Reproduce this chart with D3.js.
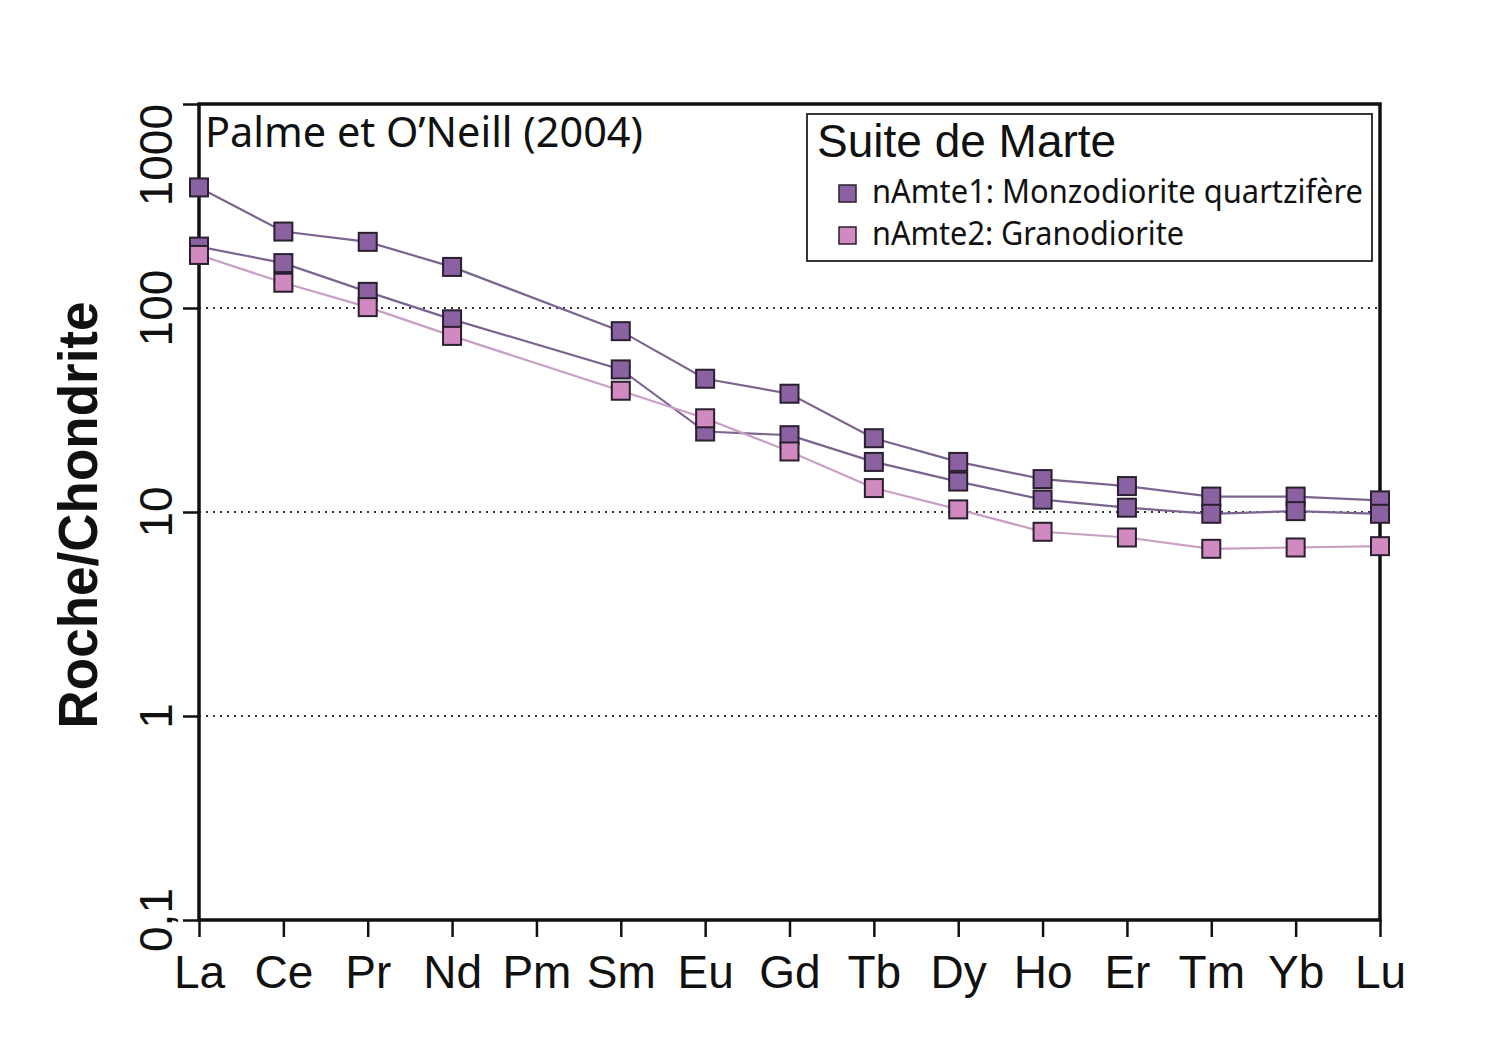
<!DOCTYPE html>
<html>
<head>
<meta charset="utf-8">
<script src="https://cdn.jsdelivr.net/npm/d3@7"></script>
<style>
  body { margin: 0; background: #fff; }
  svg { display: block; }
</style>
</head>
<body>
<script>
// Rare earth elements, chondrite normalised (Palme & O'Neill 2004)
let elements = ["La", "Ce", "Pr", "Nd", "Pm", "Sm", "Eu", "Gd", "Tb", "Dy", "Ho", "Er", "Tm", "Yb", "Lu"];

// nAmte1 samples (two of them), nAmte2; Pm is not measured
let nAmte1a = [390, 237, 211, 159, null, 77, 45, 38, 23, 17.6, 14.5, 13.4, 11.9, 11.9, 11.4];
let nAmte1b = [200, 166, 120, 88, null, 50, 24.8, 23.8, 17.6, 14.1, 11.5, 10.5, 9.8, 10.1, 9.8];
let nAmte2 = [182, 133, 101, 73, null, 39.3, 28.8, 19.8, 13.1, 10.3, 8.0, 7.5, 6.6, 6.7, 6.8];

let yTicks = [0.1, 1, 10, 100, 1000];
let yTickLabels = ["0,1", "1", "10", "100", "1000"];
let gridValues = [1, 10, 100];

let legendItems = [
    { label: "nAmte1: Monzodiorite quartzifère", fill: "#8a62a2", length: 491 },
    { label: "nAmte2: Granodiorite", fill: "#d08ac0", length: 312 }
];

let series = [
    { values: nAmte1a, fill: "#8a62a2", line: "#7b6590" },
    { values: nAmte1b, fill: "#8a62a2", line: "#7b6590" },
    { values: nAmte2, fill: "#d08ac0", line: "#c99fc4" }
];

let width = 1499, height = 1053;
let plot = { left: 199, right: 1380, top: 104, bottom: 920 };

let svg = d3.select("body")
    .append("svg")
    .attr("width", width)
    .attr("height", height);

let x = d3.scalePoint(elements, [plot.left, plot.right]);
let y = d3.scaleLog([0.1, 1000], [plot.bottom, plot.top]);

// Dotted grid lines
svg.append("g")
    .selectAll("line")
    .data(gridValues)
    .enter()
    .append("line")
    .attr("x1", plot.left)
    .attr("x2", plot.right)
    .attr("y1", d => y(d))
    .attr("y2", d => y(d))
    .attr("stroke", "#333")
    .attr("stroke-width", 1.8)
    .attr("stroke-dasharray", "2,5");

// Frame
svg.append("rect")
    .attr("x", plot.left)
    .attr("y", plot.top)
    .attr("width", plot.right - plot.left)
    .attr("height", plot.bottom - plot.top)
    .attr("fill", "none")
    .attr("stroke", "#111")
    .attr("stroke-width", 3.5);

// Y axis
let yAxis = svg.append("g")
    .attr("transform", `translate(${plot.left},0)`)
    .call(d3.axisLeft(y).tickValues(yTicks).tickSize(16).tickFormat(""));
yAxis.select(".domain").remove();
yAxis.selectAll(".tick line").attr("stroke", "#111").attr("stroke-width", 2.5);

svg.append("g")
    .selectAll("text")
    .data(yTicks)
    .enter()
    .append("text")
    .attr("transform", d => `translate(172,${y(d)}) rotate(-90)`)
    .attr("text-anchor", d => d == 1000 ? "end" : "middle")
    .attr("font-family", "Liberation Sans, Arial, sans-serif")
    .attr("font-size", 46)
    .attr("fill", "#111")
    .text((d, i) => yTickLabels[i]);

// X axis
let xAxis = svg.append("g")
    .attr("transform", `translate(0,${plot.bottom})`)
    .call(d3.axisBottom(x).tickSize(17).tickPadding(20));
xAxis.select(".domain").remove();
xAxis.selectAll(".tick line").attr("stroke", "#111").attr("stroke-width", 2.5);
xAxis.selectAll(".tick text")
    .attr("font-family", "Liberation Sans, Arial, sans-serif")
    .attr("font-size", 46)
    .attr("fill", "#111")
    .attr("dy", null)
    .attr("y", 68);

// Axis title
svg.append("text")
    .attr("transform", `translate(97,${(plot.top + plot.bottom) / 2 + 3}) rotate(-90)`)
    .attr("text-anchor", "middle")
    .attr("font-family", "Liberation Sans, Arial, sans-serif")
    .attr("font-weight", "bold")
    .attr("font-size", 56)
    .attr("textLength", 427)
    .attr("lengthAdjust", "spacingAndGlyphs")
    .attr("fill", "#111")
    .text("Roche/Chondrite");

// Series lines and markers
let line = d3.line()
    .defined(d => d.v != null)
    .x(d => x(d.e))
    .y(d => y(d.v));

let size = 18;
series.forEach(s => {
    let pts = elements.map((e, i) => ({ e: e, v: s.values[i] })).filter(d => d.v != null);
    svg.append("path")
        .attr("d", line(pts))
        .attr("fill", "none")
        .attr("stroke", s.line)
        .attr("stroke-width", 2.2);
});

series.forEach(s => {
    let pts = elements.map((e, i) => ({ e: e, v: s.values[i] })).filter(d => d.v != null);
    svg.append("g")
        .selectAll("rect")
        .data(pts)
        .enter()
        .append("rect")
        .attr("x", d => x(d.e) - size / 2)
        .attr("y", d => y(d.v) - size / 2)
        .attr("width", size)
        .attr("height", size)
        .attr("fill", s.fill)
        .attr("stroke", "#2a1f2e")
        .attr("stroke-width", 2);
});

// Reference note
svg.append("text")
    .attr("x", 205)
    .attr("y", 147)
    .attr("font-family", "Noto Sans, Open Sans, sans-serif")
    .attr("font-size", 41)
    .attr("textLength", 438)
    .attr("lengthAdjust", "spacingAndGlyphs")
    .attr("fill", "#111")
    .text("Palme et O’Neill (2004)");

// Legend
let legend = svg.append("g");
legend.append("rect")
    .attr("x", 807)
    .attr("y", 114)
    .attr("width", 565)
    .attr("height", 147)
    .attr("fill", "#fff")
    .attr("stroke", "#222")
    .attr("stroke-width", 1.8);

legend.append("text")
    .attr("x", 817)
    .attr("y", 157)
    .attr("font-family", "Liberation Sans, Arial, sans-serif")
    .attr("font-size", 46)
    .attr("fill", "#111")
    .text("Suite de Marte");

let items = legend.selectAll(".item")
    .data(legendItems)
    .enter()
    .append("g")
    .attr("class", "item")
    .attr("transform", (d, i) => `translate(0,${i * 42})`);

items.append("rect")
    .attr("x", 839)
    .attr("y", 185)
    .attr("width", 17)
    .attr("height", 17)
    .attr("fill", d => d.fill)
    .attr("stroke", "#2a1f2e")
    .attr("stroke-width", 1.5);

items.append("text")
    .attr("x", 872)
    .attr("y", 203)
    .attr("font-family", "Noto Sans, Open Sans, sans-serif")
    .attr("font-size", 32)
    .attr("textLength", d => d.length)
    .attr("lengthAdjust", "spacingAndGlyphs")
    .attr("fill", "#111")
    .text(d => d.label);
</script>
</body>
</html>
